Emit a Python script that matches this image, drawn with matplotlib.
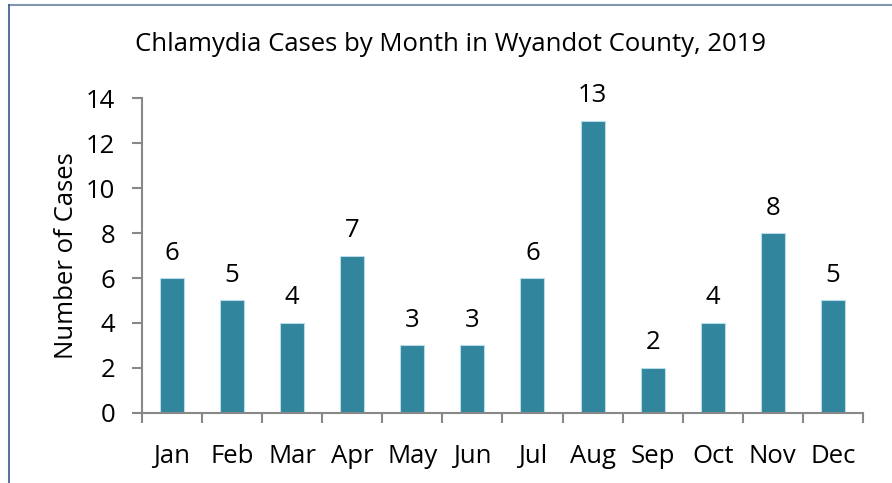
import numpy as np
import matplotlib
matplotlib.use('Agg')
from matplotlib import pyplot as plt
from matplotlib.lines import Line2D

# data
months = ['Jan', 'Feb', 'Mar', 'Apr', 'May', 'Jun',
          'Jul', 'Aug', 'Sep', 'Oct', 'Nov', 'Dec']
cases = [6, 5, 4, 7, 3, 3, 6, 13, 2, 4, 8, 5]
yticks = [0, 2, 4, 6, 8, 10, 12, 14]

plt.rcParams['font.family'] = ['Open Sans', 'DejaVu Sans']
FS = 18.5

fig = plt.figure(figsize=(8.92, 4.83), dpi=100)
ax = fig.add_axes([0.159, 0.145, 0.8085, 0.652])

x = np.arange(len(months))
bars = ax.bar(x, cases, width=0.4, color='#31859C', edgecolor='#B7DDE8', linewidth=0.8)

for b, v in zip(bars, cases):
    ax.annotate(str(v), (b.get_x() + b.get_width() / 2, v), xytext=(0, 9),
                textcoords='offset points', ha='center', va='bottom', fontsize=FS)

ax.set_xlim(-0.5, len(months) - 0.5)
ax.set_ylim(0, 14)
ax.set_yticks(yticks)
ax.set_xticks(x)
ax.set_xticklabels(months, fontsize=FS)
ax.tick_params(axis='y', labelsize=FS, length=7, width=1.5, color='#888888', pad=12)
# ticks sit between categories, labels in the middle
ax.set_xticks(np.arange(-0.5, len(months)), minor=True)
ax.tick_params(axis='x', which='major', length=0, pad=22)
ax.tick_params(axis='x', which='minor', length=7, width=1.5, color='#888888')

for s in ['top', 'right']:
    ax.spines[s].set_visible(False)
for s in ['left', 'bottom']:
    ax.spines[s].set_color('#888888')
    ax.spines[s].set_linewidth(1.5)

ax.set_ylabel('Number of Cases', fontsize=FS, labelpad=5)
fig.text(0.5056, 0.907, 'Chlamydia Cases by Month in Wyandot County, 2019',
         ha='center', va='center', fontsize=FS)

# outer frame of the chart object
fig.add_artist(Line2D([0.0101, 1.0], [0.99, 0.99], transform=fig.transFigure,
                      color='#8196AE', linewidth=1.5))
fig.add_artist(Line2D([0.0101, 0.0101], [0.0, 0.99], transform=fig.transFigure,
                      color='#3A5A8A', linewidth=1.2))

fig.savefig('out.png', dpi=100)
